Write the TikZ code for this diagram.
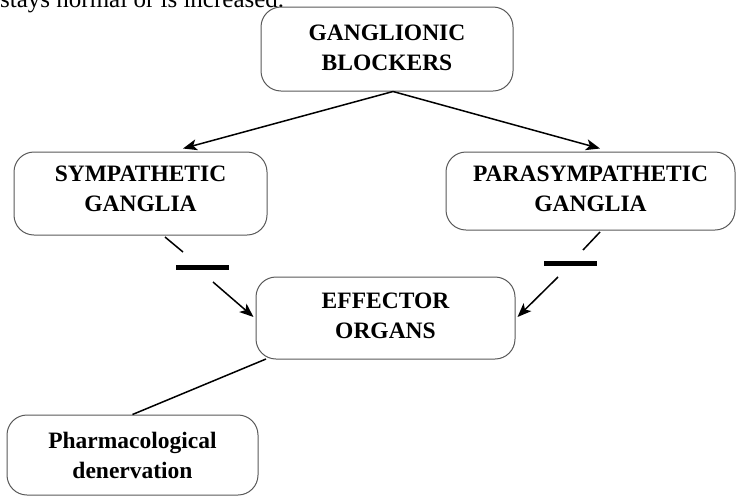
\documentclass[tikz,border=0pt]{standalone}
\usepackage{fontspec}
\setmainfont{Liberation Serif}
\usetikzlibrary{arrows.meta,calc}
\tikzset{
  box/.style={draw=black!65, line width=1pt, rounded corners=20pt, align=center,
    font=\bfseries\fontsize{23.5}{30}\selectfont, inner sep=0pt, fill=white},
  conn/.style={line width=1.5pt, -{Stealth[length=14pt,width=11pt,inset=3.5pt]}},
  link/.style={line width=1.5pt},
  bar/.style={fill=black, inner sep=0pt, minimum width=53pt, minimum height=5pt},
}
\begin{document}
\begin{tikzpicture}[x=1pt,y=-1pt]
\useasboundingbox (0,0) rectangle (738,496);

% running text of the page above the chart
\node[anchor=base west, inner sep=0pt, font=\fontsize{25}{30}\selectfont] (head) at (0,7.5) {stays normal or is increased.};

% boxes
\node[box, minimum width=252pt, minimum height=84pt, text depth=3pt] (blk) at (387,49) {GANGLIONIC\\BLOCKERS};
\node[box, minimum width=253pt, minimum height=83pt, text depth=10pt] (sym) at (140.5,193.5) {SYMPATHETIC\\GANGLIA};
\node[box, minimum width=289pt, minimum height=78pt, text depth=5pt] (para) at (590.5,191) {PARASYMPATHETIC\\GANGLIA};
\node[box, minimum width=259pt, minimum height=82pt, text depth=5pt] (eff) at (385.5,318) {EFFECTOR\\ORGANS};
\node[box, minimum width=251pt, minimum height=80pt] (pharm) at (132.5,455) {Pharmacological\\denervation};

% blocking bars
\node[bar] (lbar) at (202.5,267) {};
\node[bar] (rbar) at (570,263) {};

% connector end points
\coordinate (apex) at ($(blk.south)+(6,0)$);
\coordinate (symin) at ($(sym.north)+(42.5,-3)$);
\coordinate (parain) at ($(para.north)+(9.5,-3)$);
\coordinate (l1) at (165,237);
\coordinate (l2) at (183,252);
\coordinate (l3) at (213,282);
\coordinate (effl) at ($(eff.west)+(-2,-1)$);
\coordinate (r1) at (600,232);
\coordinate (r2) at (583,250);
\coordinate (r3) at (558,277);
\coordinate (effr) at ($(eff.east)+(2,-1)$);
\coordinate (effbl) at (266,359);

% connectors
\draw[conn] (apex) -- (symin);
\draw[conn] (apex) -- (parain);
\draw[link] (l1) -- (l2);
\draw[conn] (l3) -- (effl);
\draw[link] (r1) -- (r2);
\draw[conn] (r3) -- (effr);
\draw[link] (effbl) -- (pharm.north);
\end{tikzpicture}
\end{document}
